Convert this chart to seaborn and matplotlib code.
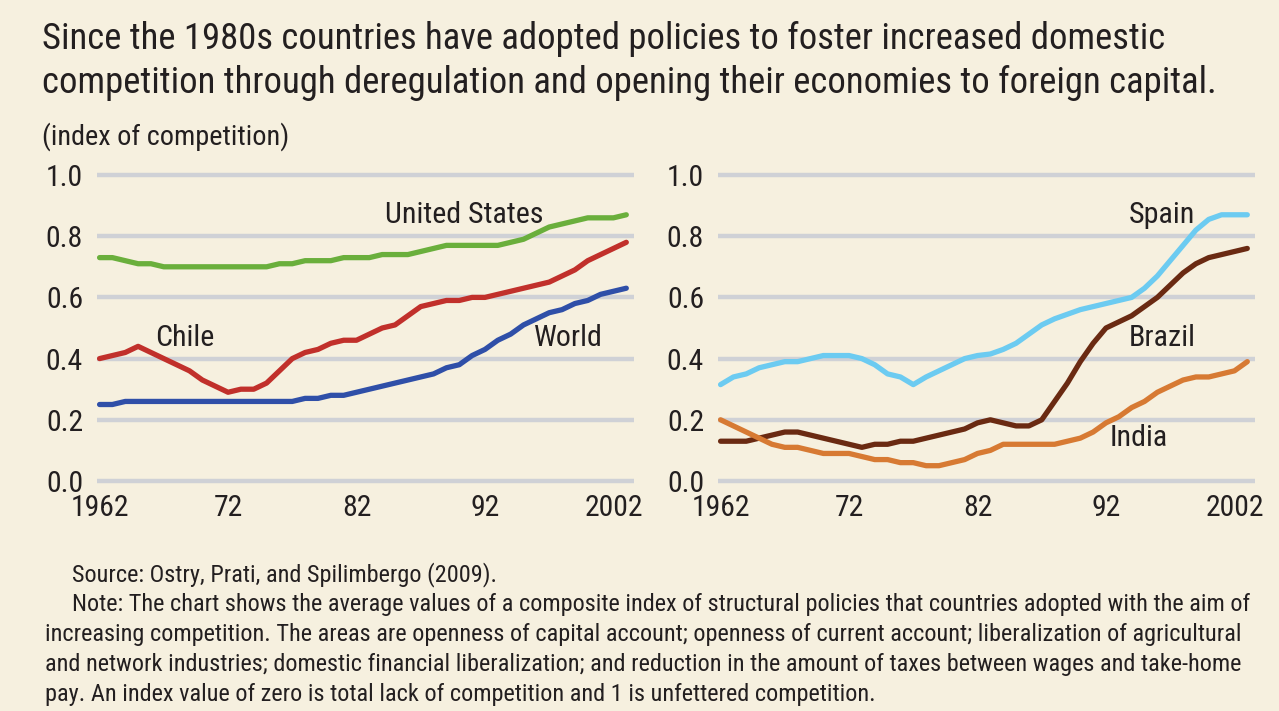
import numpy as np
import pandas as pd
import matplotlib
matplotlib.use("Agg")
import matplotlib.pyplot as plt
from matplotlib import font_manager
from matplotlib.ticker import MultipleLocator, FixedLocator
import seaborn as sns

# ---- data -------------------------------------------------------------
years = list(range(1962, 2004))

united_states = [0.73, 0.73, 0.72, 0.71, 0.71, 0.70, 0.70, 0.70, 0.70, 0.70,
                 0.70, 0.70, 0.70, 0.70, 0.71, 0.71, 0.72, 0.72, 0.72, 0.73,
                 0.73, 0.73, 0.74, 0.74, 0.74, 0.75, 0.76, 0.77, 0.77, 0.77,
                 0.77, 0.77, 0.78, 0.79, 0.81, 0.83, 0.84, 0.85, 0.86, 0.86,
                 0.86, 0.87]
chile = [0.40, 0.41, 0.42, 0.44, 0.42, 0.40, 0.38, 0.36, 0.33, 0.31,
         0.29, 0.30, 0.30, 0.32, 0.36, 0.40, 0.42, 0.43, 0.45, 0.46,
         0.46, 0.48, 0.50, 0.51, 0.54, 0.57, 0.58, 0.59, 0.59, 0.60,
         0.60, 0.61, 0.62, 0.63, 0.64, 0.65, 0.67, 0.69, 0.72, 0.74,
         0.76, 0.78]
world = [0.25, 0.25, 0.26, 0.26, 0.26, 0.26, 0.26, 0.26, 0.26, 0.26,
         0.26, 0.26, 0.26, 0.26, 0.26, 0.26, 0.27, 0.27, 0.28, 0.28,
         0.29, 0.30, 0.31, 0.32, 0.33, 0.34, 0.35, 0.37, 0.38, 0.41,
         0.43, 0.46, 0.48, 0.51, 0.53, 0.55, 0.56, 0.58, 0.59, 0.61,
         0.62, 0.63]
spain = [0.315, 0.34, 0.35, 0.37, 0.38, 0.39, 0.39, 0.40, 0.41, 0.41,
         0.41, 0.40, 0.38, 0.35, 0.34, 0.315, 0.34, 0.36, 0.38, 0.40,
         0.41, 0.415, 0.43, 0.45, 0.48, 0.51, 0.53, 0.545, 0.56, 0.57,
         0.58, 0.59, 0.60, 0.63, 0.67, 0.72, 0.77, 0.82, 0.855, 0.87,
         0.87, 0.87]
brazil = [0.13, 0.13, 0.13, 0.14, 0.15, 0.16, 0.16, 0.15, 0.14, 0.13,
          0.12, 0.11, 0.12, 0.12, 0.13, 0.13, 0.14, 0.15, 0.16, 0.17,
          0.19, 0.20, 0.19, 0.18, 0.18, 0.20, 0.26, 0.32, 0.39, 0.45,
          0.50, 0.52, 0.54, 0.57, 0.60, 0.64, 0.68, 0.71, 0.73, 0.74,
          0.75, 0.76]
india = [0.20, 0.18, 0.16, 0.14, 0.12, 0.11, 0.11, 0.10, 0.09, 0.09,
         0.09, 0.08, 0.07, 0.07, 0.06, 0.06, 0.05, 0.05, 0.06, 0.07,
         0.09, 0.10, 0.12, 0.12, 0.12, 0.12, 0.12, 0.13, 0.14, 0.16,
         0.19, 0.21, 0.24, 0.26, 0.29, 0.31, 0.33, 0.34, 0.34, 0.35,
         0.36, 0.39]

y_ticks = [0.0, 0.2, 0.4, 0.6, 0.8, 1.0]
y_tick_labels = ["0.0", "0.2", "0.4", "0.6", "0.8", "1.0"]
x_major = [1962, 1972, 1982, 1992, 2002]
x_major_labels = ["1962", "72", "82", "92", "2002"]

left_series = {"United States": united_states, "Chile": chile, "World": world}
right_series = {"Spain": spain, "Brazil": brazil, "India": india}

colors = {
    "United States": "#6aaf3c",
    "Chile": "#c1302b",
    "World": "#2f4fa8",
    "Spain": "#6ccbf1",
    "Brazil": "#6a2a12",
    "India": "#d77a33",
}

# series label placement (year, value)
label_pos = {
    "United States": (1984.2, 0.869),
    "Chile": (1966.3, 0.467),
    "World": (1995.8, 0.467),
    "Spain": (1993.8, 0.869),
    "Brazil": (1993.8, 0.467),
    "India": (1992.3, 0.14),
}

title_lines = [
    "Since the 1980s countries have adopted policies to foster increased domestic",
    "competition through deregulation and opening their economies to foreign capital.",
]
unit_label = "(index of competition)"
note_lines = [
    "Source: Ostry, Prati, and Spilimbergo (2009).",
    "Note: The chart shows the average values of a composite index of structural policies that countries adopted with the aim of",
    "increasing competition. The areas are openness of capital account; openness of current account; liberalization of agricultural",
    "and network industries; domestic financial liberalization; and reduction in the amount of taxes between wages and take-home",
    "pay. An index value of zero is total lack of competition and 1 is unfettered competition.",
]

# ---- font: pick a narrow sans if one is installed -------------------------
def pick_narrow_font():
    prefs = ["Liberation Sans Narrow", "Roboto Condensed", "Noto Sans Condensed",
             "Open Sans Condensed", "DejaVu Sans Condensed"]
    entries = font_manager.fontManager.ttflist
    by_name = {}
    for e in entries:
        if e.style != "normal":
            continue
        if e.weight not in (400, "normal", "regular", "book"):
            continue
        if e.stretch not in ("condensed", "semi-condensed", "extra-condensed") and \
                not any(k in e.name for k in ("Narrow", "Condensed")):
            continue
        by_name.setdefault(e.name, []).append(e)
    for p in prefs:
        if p in by_name:
            return by_name[p][0]
    for name, lst in by_name.items():
        if "Mono" not in name and "Serif" not in name:
            return lst[0]
    return None


BG = "#f6f0df"
TEXT = "#231f20"
GRID = "#cfd1d6"

sns.set_theme(style="white")
narrow = pick_narrow_font()
if narrow is not None:
    FONT = font_manager.FontProperties(fname=narrow.fname)
else:
    FONT = font_manager.FontProperties(family="DejaVu Sans")
plt.rcParams["font.family"] = [FONT.get_name(), "DejaVu Sans"]
plt.rcParams["text.color"] = TEXT

W, H = 1279, 711
fig = plt.figure(figsize=(W / 100, H / 100), dpi=100, facecolor=BG)
renderer = fig.canvas.get_renderer()


def fp(size):
    f = FONT.copy()
    f.set_size(size)
    return f


def fit_size(text, target_px, base=20.0):
    t = fig.text(0, 0, text, fontproperties=fp(base))
    w = t.get_window_extent(renderer=renderer).width
    t.remove()
    return base * target_px / w


title_size = fit_size(title_lines[1], 1170)
tick_size = fit_size("2002", 59)
series_size = fit_size("United States", 158)
unit_size = fit_size(unit_label, 246)
note_size = fit_size(note_lines[1], 1177)

y_lo, y_hi = -0.01, 1.01
px_per_unit = (481 - 175) / 1.0
bottom_px = 481 + (0 - y_lo) * px_per_unit
top_px = 175 - (y_hi - 1.0) * px_per_unit


def make_axes(left_px, right_px):
    return fig.add_axes([left_px / W, 1 - bottom_px / H,
                         (right_px - left_px) / W, (bottom_px - top_px) / H])


def draw_panel(ax, series):
    ax.set_facecolor(BG)
    frames = [pd.DataFrame({"year": years, "value": vals, "country": name})
              for name, vals in series.items()]
    df = pd.concat(frames, ignore_index=True)
    sns.lineplot(data=df, x="year", y="value", hue="country",
                 palette={k: colors[k] for k in series}, linewidth=3.8,
                 legend=False, ax=ax, zorder=3)
    ax.set_xlim(1961.8, 2003.6)
    ax.set_ylim(y_lo, y_hi)
    for s in ax.spines.values():
        s.set_visible(False)
    ax.set_xlabel("")
    ax.set_ylabel("")

    ax.yaxis.set_major_locator(FixedLocator(y_ticks))
    ax.set_yticklabels(y_tick_labels)
    ax.grid(axis="y", color=GRID, linewidth=3.2, zorder=0)
    ax.grid(axis="x", visible=False)
    ax.tick_params(axis="y", length=0, pad=10)

    ax.xaxis.set_major_locator(FixedLocator(x_major))
    ax.xaxis.set_minor_locator(MultipleLocator(1))
    ax.set_xticklabels(x_major_labels)
    ax.tick_params(axis="x", which="major", direction="in", length=13,
                   width=1.6, color="#3a3a3a", pad=7)
    ax.tick_params(axis="x", which="minor", direction="in", length=7,
                   width=1.4, color="#3a3a3a")
    for lab in ax.get_xticklabels() + ax.get_yticklabels():
        lab.set_fontproperties(fp(tick_size))
        lab.set_color(TEXT)

    for name in series:
        x, y = label_pos[name]
        ax.text(x, y, name, fontproperties=fp(series_size), color=TEXT,
                ha="left", va="center", zorder=4)


ax_left = make_axes(97, 634)
ax_right = make_axes(718, 1255)
draw_panel(ax_left, left_series)
draw_panel(ax_right, right_series)

# ---- text -------------------------------------------------------------
fig.text(42 / W, 1 - 39 / H, title_lines[0], fontproperties=fp(title_size),
         ha="left", va="center", color=TEXT)
fig.text(42 / W, 1 - 83 / H, title_lines[1], fontproperties=fp(title_size),
         ha="left", va="center", color=TEXT)
fig.text(42 / W, 1 - 137 / H, unit_label, fontproperties=fp(unit_size),
         ha="left", va="center", color=TEXT)

note_y = [575, 605, 635, 665, 694]
note_x = [72, 72, 45, 45, 45]
for txt, xp, yp in zip(note_lines, note_x, note_y):
    fig.text(xp / W, 1 - yp / H, txt, fontproperties=fp(note_size),
             ha="left", va="center", color=TEXT)

fig.savefig("out.png", dpi=100, facecolor=BG)
